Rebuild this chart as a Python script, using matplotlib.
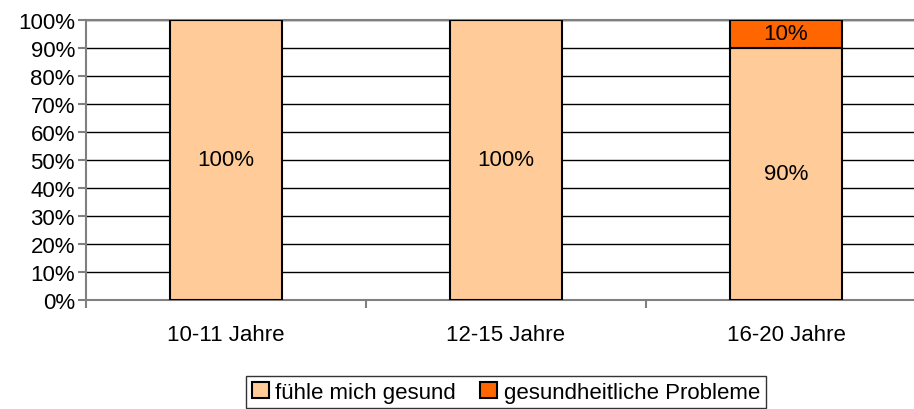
import numpy as np
import matplotlib.pyplot as plt

plt.rcParams['font.family'] = ['Liberation Sans', 'DejaVu Sans']

groups = ['10-11 Jahre', '12-15 Jahre', '16-20 Jahre']
gesund = [100, 100, 90]
probleme = [0, 0, 10]

fig = plt.figure(figsize=(9.14, 4.10), dpi=100)
ax = fig.add_axes([86/914, 109/410, 840/914, 280/410])

x = np.arange(len(groups))
b1 = ax.bar(x, gesund, width=0.4, color='#FFCC99', edgecolor='black', linewidth=1.5,
            label='fühle mich gesund', zorder=3)
b2 = ax.bar(x, probleme, width=0.4, bottom=gesund, color='#FF6600', edgecolor='black',
            linewidth=1.5, label='gesundheitliche Probleme', zorder=3)

for i in range(len(groups)):
    ax.text(x[i], gesund[i] / 2, '%d%%' % gesund[i], ha='center', va='center', fontsize=16, zorder=4)
    if probleme[i] > 0:
        ax.text(x[i], gesund[i] + probleme[i] / 2, '%d%%' % probleme[i], ha='center', va='center',
                fontsize=16, zorder=4)

ax.set_xlim(-0.5, 2.5)
ax.set_ylim(0, 100)
ax.set_yticks(range(0, 101, 10))
ax.set_yticklabels(['%d%%' % v for v in range(0, 101, 10)], fontsize=16)
ax.yaxis.grid(True, color='black', linewidth=1)
ax.set_axisbelow(True)

ax.set_xticks([-0.5, 0.5, 1.5, 2.5])
ax.set_xticklabels([])
ax.set_xticks(x, minor=True)
ax.set_xticklabels(groups, minor=True, fontsize=16)
ax.tick_params(axis='x', which='minor', length=0, pad=17)
ax.tick_params(axis='x', which='major', length=6, color='#808080', width=1.5)
ax.tick_params(axis='y', length=6, color='#808080', width=1.5, pad=2)

for s in ['left', 'bottom', 'top']:
    ax.spines[s].set_color('#808080')
    ax.spines[s].set_linewidth(1.5)
ax.spines['right'].set_visible(False)

leg = fig.legend(handles=[b1, b2], loc='lower center', bbox_to_anchor=(506/914, -0.015), ncol=2,
                 fontsize=16, frameon=True, fancybox=False, edgecolor='black',
                 handlelength=0.75, handleheight=0.75, handletextpad=0.3, columnspacing=1.1,
                 borderpad=0.25, borderaxespad=0.3)
leg.get_frame().set_linewidth(1)

fig.savefig('out.png', dpi=100)
